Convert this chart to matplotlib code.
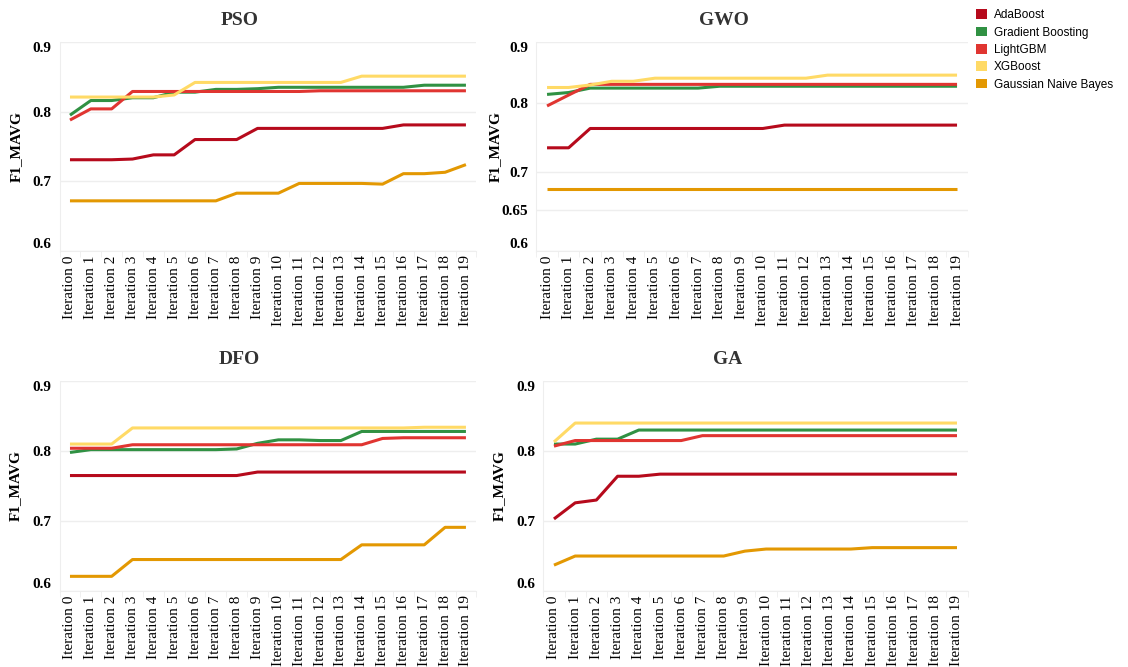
import numpy as np
import matplotlib
matplotlib.use("Agg")
import matplotlib.pyplot as plt
from matplotlib.patches import Patch
from matplotlib.ticker import FixedLocator, FixedFormatter, NullLocator

# Categorias e séries
iteracoes = ["Iteration %d" % i for i in range(20)]
modelos = ["AdaBoost", "Gradient Boosting", "LightGBM", "XGBoost", "Gaussian Naive Bayes"]
cores = ["#b60a1c", "#309143", "#e03531", "#ffda66", "#e39802"]

# PSO
pso_ada = [0.731, 0.731, 0.731, 0.732, 0.738, 0.738, 0.760, 0.760, 0.760, 0.776,
           0.776, 0.776, 0.776, 0.776, 0.776, 0.776, 0.781, 0.781, 0.781, 0.781]
pso_gb = [0.795, 0.816, 0.816, 0.820, 0.820, 0.828, 0.828, 0.832, 0.832, 0.833,
          0.835, 0.835, 0.835, 0.835, 0.835, 0.835, 0.835, 0.838, 0.838, 0.838]
pso_lgbm = [0.788, 0.804, 0.804, 0.829, 0.829, 0.829, 0.829, 0.829, 0.829, 0.829,
            0.829, 0.829, 0.830, 0.830, 0.830, 0.830, 0.830, 0.830, 0.830, 0.830]
pso_xgb = [0.821, 0.821, 0.821, 0.821, 0.821, 0.824, 0.842, 0.842, 0.842, 0.842,
           0.842, 0.842, 0.842, 0.842, 0.851, 0.851, 0.851, 0.851, 0.851, 0.851]
pso_gnb = [0.672, 0.672, 0.672, 0.672, 0.672, 0.672, 0.672, 0.672, 0.683, 0.683,
           0.683, 0.697, 0.697, 0.697, 0.697, 0.696, 0.711, 0.711, 0.713, 0.724]

# GWO
gwo_ada = [0.733, 0.733, 0.761, 0.761, 0.761, 0.761, 0.761, 0.761, 0.761, 0.761,
           0.761, 0.766, 0.766, 0.766, 0.766, 0.766, 0.766, 0.766, 0.766, 0.766]
gwo_gb = [0.813, 0.816, 0.823, 0.823, 0.823, 0.823, 0.823, 0.823, 0.826, 0.826,
          0.826, 0.826, 0.826, 0.826, 0.826, 0.826, 0.826, 0.826, 0.826, 0.826]
gwo_lgbm = [0.795, 0.812, 0.829, 0.829, 0.829, 0.829, 0.829, 0.829, 0.829, 0.829,
            0.829, 0.829, 0.829, 0.829, 0.829, 0.829, 0.829, 0.829, 0.829, 0.829]
gwo_xgb = [0.824, 0.824, 0.828, 0.834, 0.834, 0.839, 0.839, 0.839, 0.839, 0.839,
           0.839, 0.839, 0.839, 0.844, 0.844, 0.844, 0.844, 0.844, 0.844, 0.844]
gwo_gnb = [0.677] * 20

# DFO
dfo_ada = [0.765, 0.765, 0.765, 0.765, 0.765, 0.765, 0.765, 0.765, 0.765, 0.770,
           0.770, 0.770, 0.770, 0.770, 0.770, 0.770, 0.770, 0.770, 0.770, 0.770]
dfo_gb = [0.798, 0.802, 0.802, 0.802, 0.802, 0.802, 0.802, 0.802, 0.803, 0.811,
          0.816, 0.816, 0.815, 0.815, 0.828, 0.828, 0.828, 0.828, 0.828, 0.828]
dfo_lgbm = [0.804, 0.804, 0.804, 0.809, 0.809, 0.809, 0.809, 0.809, 0.809, 0.809,
            0.809, 0.809, 0.809, 0.809, 0.809, 0.818, 0.819, 0.819, 0.819, 0.819]
dfo_xgb = [0.810, 0.810, 0.810, 0.833, 0.833, 0.833, 0.833, 0.833, 0.833, 0.833,
           0.833, 0.833, 0.833, 0.833, 0.833, 0.833, 0.833, 0.834, 0.834, 0.834]
dfo_gnb = [0.621, 0.621, 0.621, 0.645, 0.645, 0.645, 0.645, 0.645, 0.645, 0.645,
           0.645, 0.645, 0.645, 0.645, 0.666, 0.666, 0.666, 0.666, 0.691, 0.691]

# GA
ga_ada = [0.703, 0.726, 0.730, 0.764, 0.764, 0.767, 0.767, 0.767, 0.767, 0.767,
          0.767, 0.767, 0.767, 0.767, 0.767, 0.767, 0.767, 0.767, 0.767, 0.767]
ga_gb = [0.810, 0.810, 0.817, 0.817, 0.830, 0.830, 0.830, 0.830, 0.830, 0.830,
         0.830, 0.830, 0.830, 0.830, 0.830, 0.830, 0.830, 0.830, 0.830, 0.830]
ga_lgbm = [0.807, 0.815, 0.815, 0.815, 0.815, 0.815, 0.815, 0.822, 0.822, 0.822,
           0.822, 0.822, 0.822, 0.822, 0.822, 0.822, 0.822, 0.822, 0.822, 0.822]
ga_xgb = [0.813] + [0.840] * 19
ga_gnb = [0.637, 0.650, 0.650, 0.650, 0.650, 0.650, 0.650, 0.650, 0.650, 0.657,
          0.660, 0.660, 0.660, 0.660, 0.660, 0.662, 0.662, 0.662, 0.662, 0.662]

# nome, séries, posição do eixo, escala log, posição x do rótulo do eixo y
paineis = [
    ("PSO", [pso_ada, pso_gb, pso_lgbm, pso_xgb, pso_gnb], [0.0528, 0.6237, 0.3695, 0.3133], False, -0.088),
    ("GWO", [gwo_ada, gwo_gb, gwo_lgbm, gwo_xgb, gwo_gnb], [0.4754, 0.6237, 0.3826, 0.3133], True, -0.080),
    ("DFO", [dfo_ada, dfo_gb, dfo_lgbm, dfo_xgb, dfo_gnb], [0.0528, 0.1139, 0.3695, 0.3148], False, -0.090),
    ("GA", [ga_ada, ga_gb, ga_lgbm, ga_xgb, ga_gnb], [0.4817, 0.1139, 0.3761, 0.3148], False, -0.088),
]

serif = "Liberation Serif"
fig = plt.figure(figsize=(11.28, 6.67), dpi=100)

x = np.arange(len(iteracoes))
ordem = [4, 0, 1, 2, 3]  # ordem de desenho
for nome, series, pos, log, ylx in paineis:
    ax = fig.add_axes(pos)
    for k in ordem:
        ax.plot(x, series[k], color=cores[k], linewidth=2.2, solid_capstyle="butt")
    ax.set_xlim(-0.5, len(iteracoes) - 0.5)
    if log:
        ax.set_yscale("log")
        ticks = [0.6, 0.65, 0.7, 0.8, 0.9]
    else:
        ticks = [0.6, 0.7, 0.8, 0.9]
    ax.set_ylim(0.6, 0.9)
    ax.yaxis.set_major_locator(FixedLocator(ticks))
    ax.yaxis.set_major_formatter(FixedFormatter([("%g" % t) for t in ticks]))
    ax.yaxis.set_minor_locator(NullLocator())
    ax.set_xticks(x)
    ax.set_xticklabels(iteracoes, rotation=90, fontfamily=serif, fontsize=11)
    ax.set_xticks(np.arange(-0.5, len(iteracoes)), minor=True)
    ax.tick_params(axis="x", which="major", length=0, pad=3)
    ax.tick_params(axis="x", which="minor", length=4, color="#eeeeee")
    ax.tick_params(axis="y", which="major", length=0, pad=6)
    fig.canvas.draw()
    labs = ax.get_yticklabels()
    for lab in labs:
        lab.set_fontfamily(serif)
        lab.set_fontweight("bold")
        lab.set_fontsize(11)
    # rótulos das pontas ficam dentro da área do gráfico
    labs[0].set_verticalalignment("bottom")
    labs[-1].set_verticalalignment("top")
    ax.grid(axis="y", color="#eeeeee", linewidth=1)
    ax.set_axisbelow(True)
    for s in ["top", "right"]:
        ax.spines[s].set_visible(False)
    for s in ["left", "bottom"]:
        ax.spines[s].set_color("#eeeeee")
    ax.set_ylabel("F1_MAVG", fontfamily=serif, fontweight="bold", fontsize=11)
    ax.yaxis.set_label_coords(ylx, 0.5)
    # título centrado sobre o painel inteiro
    cx = pos[0] + pos[2] / 2 - 0.025
    fig.text(cx, pos[1] + pos[3] + 0.02, nome, ha="center", va="bottom",
             fontfamily=serif, fontweight="bold", fontsize=14, color="#333333")

handles = [Patch(facecolor=c, edgecolor="none") for c in cores]
fig.legend(handles, modelos, loc="upper left", bbox_to_anchor=(0.856, 1.002),
           frameon=False, prop={"family": "Liberation Sans", "size": 8.5},
           handlelength=0.9, handleheight=0.9, handletextpad=0.6, labelspacing=0.45)

fig.savefig("out.png", dpi=100)
